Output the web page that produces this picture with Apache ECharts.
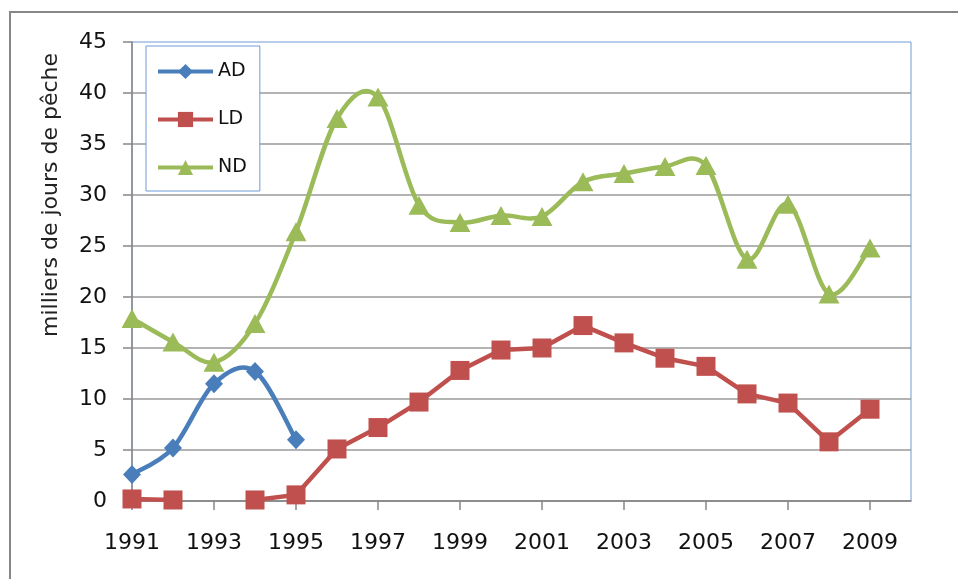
<!DOCTYPE html>
<html>
<head>
<meta charset="utf-8">
<script src="https://cdn.jsdelivr.net/npm/echarts@6/dist/echarts.min.js"></script>
<style>
html,body{margin:0;padding:0;background:#fff;}
#chart{width:958px;height:579px;}
</style>
</head>
<body>
<div id="chart"></div>
<script>
var years = ['1991','1992','1993','1994','1995','1996','1997','1998','1999','2000','2001','2002','2003','2004','2005','2006','2007','2008','2009','2010'];
var adValues = [2.6, 5.2, 11.5, 12.7, 6.0, null, null, null, null, null, null, null, null, null, null, null, null, null, null, null];
var ldValues = [0.2, 0.1, null, 0.1, 0.6, 5.1, 7.2, 9.7, 12.8, 14.8, 15.0, 17.2, 15.5, 14.0, 13.2, 10.5, 9.6, 5.8, 9.0, null];
var ndValues = [17.9, 15.6, 13.6, 17.4, 26.4, 37.5, 39.6, 29.0, 27.3, 28.0, 27.9, 31.3, 32.1, 32.8, 32.9, 23.7, 29.1, 20.3, 24.8, null];
var yTicks = [0, 5, 10, 15, 20, 25, 30, 35, 40, 45];
var yTitle = 'milliers de jours de pêche';

var FONT = 'DejaVu Sans';
var COLORS = {AD:'#4a7ebb', LD:'#c0504d', ND:'#9bbb59'};

// Excel-like smoothed curve (Catmull-Rom through the points), positioned by the axes via api.coord
function smoothRenderer(values, color) {
  return function (params, api) {
    if (params.dataIndex !== 0) return null;
    var segs = [], cur = [];
    for (var i = 0; i < values.length; i++) {
      if (values[i] == null) { if (cur.length) segs.push(cur); cur = []; }
      else cur.push(api.coord([i, values[i]]));
    }
    if (cur.length) segs.push(cur);
    var d = '';
    segs.forEach(function (p) {
      d += 'M' + p[0][0] + ' ' + p[0][1];
      for (var k = 0; k < p.length - 1; k++) {
        var p0 = p[k - 1] || p[k], p1 = p[k], p2 = p[k + 1], p3 = p[k + 2] || p[k + 1];
        var c1x = p1[0] + (p2[0] - p0[0]) / 6, c1y = p1[1] + (p2[1] - p0[1]) / 6;
        var c2x = p2[0] - (p3[0] - p1[0]) / 6, c2y = p2[1] - (p3[1] - p1[1]) / 6;
        d += 'C' + c1x + ' ' + c1y + ' ' + c2x + ' ' + c2y + ' ' + p2[0] + ' ' + p2[1];
      }
    });
    return {type:'path', shape:{pathData:d}, style:{stroke:color, lineWidth:4.5, fill:null, lineJoin:'round', lineCap:'round'}};
  };
}
function idxData(values) { return values.map(function (v, i) { return [i, v]; }); }

var chart = echarts.init(document.getElementById('chart'));
chart.setOption({
  animation: false,
  backgroundColor: '#ffffff',
  graphic: [
    {type:'rect', shape:{x:10, y:12, width:1000, height:700}, style:{fill:'none', stroke:'#878787', lineWidth:2}, z:-10},
    {type:'text', x:51, y:195, rotation:Math.PI/2, style:{text:yTitle, font:'22px "DejaVu Sans"', fill:'#222', align:'center', verticalAlign:'middle'}}
  ],
  grid: {left:132, top:42, right:47, bottom:78, show:true, borderColor:'#6c9bd6', borderWidth:1, backgroundColor:'transparent'},
  legend: {
    orient:'vertical', left:146, top:46,
    padding:[16,13,14,10], itemGap:29, itemWidth:55, itemHeight:19,
    backgroundColor:'#fff', borderColor:'#6c9bd6', borderWidth:1, borderRadius:0,
    lineStyle:{width:4, opacity:1},
    textStyle:{fontFamily:FONT, fontSize:19, color:'#111'},
    data:['AD','LD','ND']
  },
  xAxis: {
    type:'category', data:years, boundaryGap:false,
    axisLine:{lineStyle:{color:'#868686', width:1.5}},
    axisTick:{show:true, interval:function(i){return i % 2 === 0 && i < 19;}, length:9, lineStyle:{color:'#868686', width:1.5}},
    axisLabel:{interval:function(i){return i % 2 === 0 && i < 19;}, margin:31, fontFamily:FONT, fontSize:22, color:'#111'},
    splitLine:{show:false}
  },
  yAxis: {
    type:'value', min:yTicks[0], max:yTicks[yTicks.length-1], interval:5,
    axisLine:{show:true, lineStyle:{color:'#868686', width:1.5}},
    axisTick:{show:true, length:9, lineStyle:{color:'#868686', width:1.5}},
    axisLabel:{margin:25, fontFamily:FONT, fontSize:22, color:'#111'},
    splitLine:{show:true, showMaxLine:false, lineStyle:{color:'#9a9a9a', width:1.5}}
  },
  series: [
    {name:'AD curve', type:'custom', data:idxData(adValues), renderItem:smoothRenderer(adValues, COLORS.AD), silent:true, z:2},
    {name:'AD', type:'line', data:adValues, connectNulls:false,
     symbol:'diamond', symbolSize:[18,19], showAllSymbol:true,
     itemStyle:{color:COLORS.AD}, lineStyle:{color:COLORS.AD, width:0}, z:3},
    {name:'LD', type:'line', data:ldValues, smooth:false, connectNulls:false,
     symbol:'rect', symbolSize:19, showAllSymbol:true,
     itemStyle:{color:COLORS.LD}, lineStyle:{color:COLORS.LD, width:4.5}, z:3},
    {name:'ND curve', type:'custom', data:idxData(ndValues), renderItem:smoothRenderer(ndValues, COLORS.ND), silent:true, z:4},
    {name:'ND', type:'line', data:ndValues, connectNulls:false,
     symbol:'triangle', symbolSize:[21,19], showAllSymbol:true,
     itemStyle:{color:COLORS.ND}, lineStyle:{color:COLORS.ND, width:0}, z:5}
  ]
});
</script>
</body>
</html>
